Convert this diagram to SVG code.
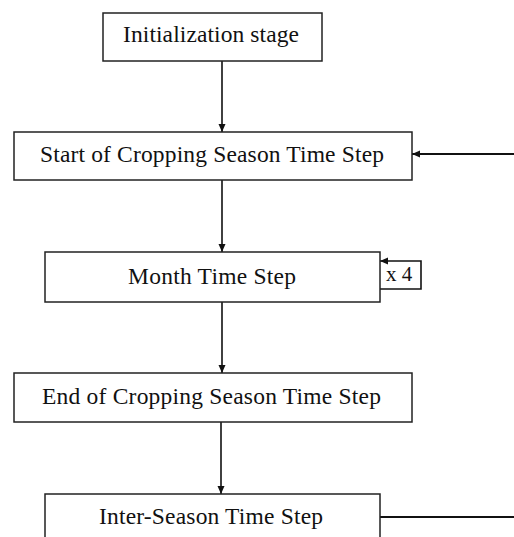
<svg xmlns="http://www.w3.org/2000/svg" width="514" height="537" viewBox="0 0 514 537">
<defs>
<marker id="ah" markerWidth="8" markerHeight="8" viewBox="0 0 8 8" refX="8" refY="4" orient="auto" markerUnits="userSpaceOnUse">
<path d="M0,0.5 L8,4 L0,7.5 Z" fill="#111"/>
</marker>
<style>
.box{fill:#fff;stroke:#222;stroke-width:1.5}
.lbl{font-family:"Liberation Serif","Times New Roman",serif;font-size:23.5px;fill:#111;text-anchor:middle}
.sm{font-family:"Liberation Serif","Times New Roman",serif;font-size:21px;fill:#111}
.con{fill:none;stroke:#111;stroke-width:1.6}
.fb{fill:none;stroke:#111;stroke-width:2.2}
</style>
</defs>
<rect width="514" height="537" fill="#fff"/>
<g id="connectors">
<path class="con" d="M222,61 V132" marker-end="url(#ah)"/>
<path class="con" d="M222,180 V252" marker-end="url(#ah)"/>
<path class="con" d="M222,302 V373" stroke-width="2" marker-end="url(#ah)"/>
<path class="con" d="M221,422 V494" stroke-width="2" marker-end="url(#ah)"/>
<path class="fb" d="M380,517 H520 V154 H412" marker-end="url(#ah)"/>
<path class="con" d="M380,289 H421 V261 H380" stroke-width="1.8" marker-end="url(#ah)"/>
</g>
<g id="n-init">
<rect class="box" x="103" y="13" width="219" height="48"/>
<text class="lbl" x="211" y="42" textLength="176" lengthAdjust="spacing">Initialization stage</text>
</g>
<g id="n-start">
<rect class="box" x="14" y="132" width="398" height="48"/>
<text class="lbl" x="212" y="162" textLength="344" lengthAdjust="spacing">Start of Cropping Season Time Step</text>
</g>
<g id="n-month">
<rect class="box" x="45" y="252" width="335" height="50"/>
<text class="lbl" x="212" y="284" textLength="168" lengthAdjust="spacing">Month Time Step</text>
</g>
<g id="n-x4">
<text class="sm" x="386" y="281">x 4</text>
</g>
<g id="n-end">
<rect class="box" x="14" y="373" width="398" height="49"/>
<text class="lbl" x="211.5" y="404" textLength="339" lengthAdjust="spacing">End of Cropping Season Time Step</text>
</g>
<g id="n-inter">
<rect class="box" x="45" y="494" width="335" height="60"/>
<text class="lbl" x="211" y="524" textLength="224" lengthAdjust="spacing">Inter-Season Time Step</text>
</g>
</svg>
